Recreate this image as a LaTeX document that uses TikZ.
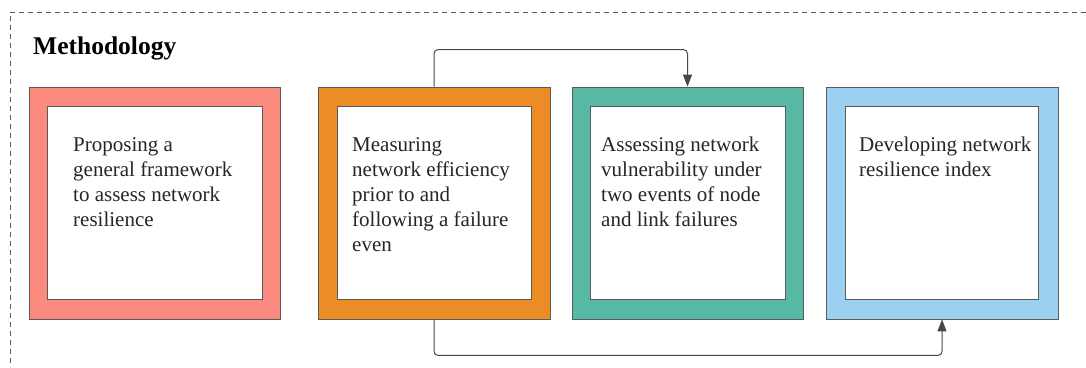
\documentclass[tikz,border=0pt]{standalone}
\usepackage{fontspec}
\setmainfont{Liberation Serif}
\usetikzlibrary{arrows.meta}
\definecolor{salmon}{HTML}{FC8B7F}
\definecolor{amber}{HTML}{EB8C24}
\definecolor{teal}{HTML}{57B9A3}
\definecolor{sky}{HTML}{9BD0F1}
\definecolor{edge}{HTML}{5A5A5A}
\tikzset{
  outerbox/.style={draw=edge, line width=0.8pt, minimum height=232pt, inner sep=0pt},
  innerbox/.style={draw=edge, fill=white, line width=0.8pt, minimum height=193pt, inner sep=0pt},
  label/.style={anchor=north west, align=left, inner sep=0pt, text=black!85,
    font=\fontsize{21}{25}\selectfont},
  conn/.style={draw=edge!80!black, line width=1pt, rounded corners=4pt,
    -{Triangle[length=12pt,width=9pt]}},
  frame/.style={draw=black!65, line width=0.8pt, dash pattern=on 5pt off 4pt}
}
\begin{document}
\begin{tikzpicture}[x=1pt,y=-1pt]
\useasboundingbox (0,0) rectangle (1086,367);
% dashed enclosure
\draw[frame] (1086,12) -- (10,12) -- (10,367);
\node[anchor=base west, inner sep=0pt, font=\fontsize{25.5}{30}\selectfont\bfseries] (title) at (33,54) {Methodology};

% steps
\node[outerbox, fill=salmon, minimum width=251pt] (b1) at (154.5,203) {};
\node[innerbox, minimum width=215pt] (i1) at (b1.center) {};
\node[label] (t1) at (73,137) {Proposing a\\general framework\\to assess network\\resilience};

\node[outerbox, fill=amber, minimum width=232pt] (b2) at (434,203) {};
\node[innerbox, minimum width=194pt] (i2) at (b2.center) {};
\node[label] (t2) at (352,137) {Measuring\\network efficiency\\prior to and\\following a failure\\even};

\node[outerbox, fill=teal, minimum width=231pt] (b3) at (687.5,203) {};
\node[innerbox, minimum width=195pt] (i3) at (b3.center) {};
\node[label] (t3) at (601,137) {Assessing network\\vulnerability under\\two events of node\\and link failures};

\node[outerbox, fill=sky, minimum width=232pt] (b4) at (942,203) {};
\node[innerbox, minimum width=193pt] (i4) at (b4.center) {};
\node[label] (t4) at (859,137) {Developing network\\resilience index};

% connectors
\draw[conn] (b2.north) -- ++(0,-37) -| (b3.north);
\draw[conn] (b2.south) -- ++(0,36) -| (b4.south);
\end{tikzpicture}
\end{document}
